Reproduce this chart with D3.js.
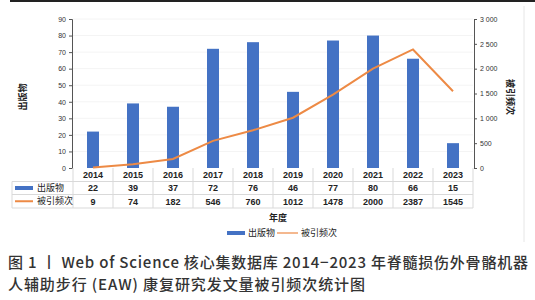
<!DOCTYPE html>
<html>
<head>
<meta charset="utf-8">
<script src="https://cdn.jsdelivr.net/npm/d3@7/dist/d3.min.js"></script>
<style>
  body { margin: 0; background: #fff; }
  svg { display: block; font-family: "Noto Sans CJK SC", "Noto Sans", sans-serif; }
</style>
</head>
<body>
<div id="chart"></div>
<script>
const years = ["2014", "2015", "2016", "2017", "2018", "2019", "2020", "2021", "2022", "2023"];
const publications = [22, 39, 37, 72, 76, 46, 77, 80, 66, 15];
const citations = [9, 74, 182, 546, 760, 1012, 1478, 2000, 2387, 1545];
const leftTicks = [0, 10, 20, 30, 40, 50, 60, 70, 80, 90];
const rightTicks = [0, 500, 1000, 1500, 2000, 2500, 3000];

const seriesNames = ["出版物", "被引频次"];
const xTitle = "年度";
const captionLines = [
    "图 1 丨 Web of Science 核心集数据库 2014−2023 年脊髓损伤外骨骼机器",
    "人辅助步行 (EAW) 康复研究发文量被引频次统计图"
];

const colors = ["#4472c4", "#ed8a45"];

const width = 535, height = 300;
const margin = {top: 19, left: 73, right: 473, bottom: 168};

const svg = d3.select("#chart").append("svg")
    .attr("width", width)
    .attr("height", height);

// top rule and right frame line
svg.append("rect").attr("x", 10).attr("y", 0).attr("width", 525).attr("height", 2).attr("fill", "#222");
svg.append("line")
    .attr("x1", 524).attr("x2", 524).attr("y1", 6).attr("y2", 242)
    .attr("stroke", "#e6e6e6").attr("stroke-width", 1);

let x = d3.scaleBand().domain(years).range([margin.left, margin.right]).paddingInner(0).paddingOuter(0);
let yL = d3.scaleLinear().domain([0, 90]).range([margin.bottom, margin.top]);
let yR = d3.scaleLinear().domain([0, 3000]).range([margin.bottom, margin.top]);

// faint gridlines
svg.append("g").selectAll("line")
    .data(leftTicks.slice(1))
    .join("line")
    .attr("x1", margin.left).attr("x2", margin.right)
    .attr("y1", d => yL(d)).attr("y2", d => yL(d))
    .attr("stroke", "#f4f4f4");

// bars
let barW = 12;
svg.append("g").selectAll("rect")
    .data(publications)
    .join("rect")
    .attr("x", (d, i) => x(years[i]) + x.bandwidth() / 2 - barW / 2)
    .attr("y", d => yL(d))
    .attr("width", barW)
    .attr("height", d => yL(0) - yL(d))
    .attr("fill", colors[0]);

// citation line
let line = d3.line()
    .x((d, i) => x(years[i]) + x.bandwidth() / 2)
    .y(d => yR(d));

svg.append("path")
    .datum(citations)
    .attr("d", line)
    .attr("fill", "none")
    .attr("stroke", colors[1])
    .attr("stroke-width", 2);

// axes
let spaceFmt = d3.formatLocale({decimal: ".", thousands: " ", grouping: [3], currency: ["", ""]}).format(",");

let leftAxis = svg.append("g")
    .attr("transform", `translate(${margin.left - 1},0)`)
    .call(d3.axisLeft(yL).tickValues(leftTicks).tickSize(3).tickSizeOuter(3));

let rightAxis = svg.append("g")
    .attr("transform", `translate(${margin.right + 1},0)`)
    .call(d3.axisRight(yR).tickValues(rightTicks).tickSize(3).tickSizeOuter(3).tickFormat(spaceFmt));

[leftAxis, rightAxis].forEach(a => {
    a.select(".domain").attr("stroke", "#555");
    a.selectAll(".tick line").attr("stroke", "#555");
    a.selectAll(".tick text")
        .attr("font-size", 7)
        .attr("fill", "#333")
        .attr("font-family", "'Liberation Sans', sans-serif");
});

// axis titles
svg.append("text")
    .attr("transform", "translate(26,97) rotate(-90)")
    .attr("text-anchor", "middle")
    .attr("font-size", 9)
    .attr("font-weight", "bold")
    .attr("fill", "#222")
    .text(seriesNames[0]);

svg.append("text")
    .attr("transform", "translate(507,97) rotate(90)")
    .attr("text-anchor", "middle")
    .attr("font-size", 9)
    .attr("font-weight", "bold")
    .attr("fill", "#222")
    .text(seriesNames[1]);

// data table
let rowY = [168, 181.5, 194.5, 208];
let tableLeft = 12;
let table = svg.append("g");

// horizontal rules
table.selectAll(".hrule")
    .data([1, 2, 3])
    .join("line")
    .attr("x1", tableLeft)
    .attr("x2", margin.right)
    .attr("y1", d => rowY[d]).attr("y2", d => rowY[d])
    .attr("stroke", "#d9d9d9");

table.append("line")
    .attr("x1", tableLeft).attr("x2", tableLeft)
    .attr("y1", rowY[1]).attr("y2", rowY[3])
    .attr("stroke", "#d9d9d9");

// vertical separators
table.selectAll(".vrule")
    .data(years.concat(["end"]))
    .join("line")
    .attr("x1", (d, i) => i < years.length ? x(d) : margin.right)
    .attr("x2", (d, i) => i < years.length ? x(d) : margin.right)
    .attr("y1", rowY[0]).attr("y2", rowY[3])
    .attr("stroke", "#d9d9d9");

let rows = [years, publications, citations];
rows.forEach((vals, r) => {
    table.append("g").selectAll("text")
        .data(vals)
        .join("text")
        .attr("x", (d, i) => x(years[i]) + x.bandwidth() / 2)
        .attr("y", (rowY[r] + rowY[r + 1]) / 2 + 3.3)
        .attr("text-anchor", "middle")
        .attr("font-size", 9)
        .attr("font-weight", "bold")
        .attr("fill", "#222")
        .attr("font-family", "'Liberation Sans', sans-serif")
        .text(d => d);
});

// table legend keys
table.append("rect")
    .attr("x", 15).attr("y", (rowY[1] + rowY[2]) / 2 - 2)
    .attr("width", 18).attr("height", 4)
    .attr("fill", colors[0]);
table.append("line")
    .attr("x1", 15).attr("x2", 33)
    .attr("y1", (rowY[2] + rowY[3]) / 2).attr("y2", (rowY[2] + rowY[3]) / 2)
    .attr("stroke", colors[1]).attr("stroke-width", 2);

seriesNames.forEach((name, i) => {
    table.append("text")
        .attr("x", 37)
        .attr("y", (rowY[i + 1] + rowY[i + 2]) / 2 + 3.2)
        .attr("font-size", 9)
        .attr("fill", "#222")
        .text(name);
});

// x title
svg.append("text")
    .attr("x", 278).attr("y", 221)
    .attr("text-anchor", "middle")
    .attr("font-size", 9)
    .attr("font-weight", "bold")
    .attr("fill", "#222")
    .text(xTitle);

// bottom legend
let legend = svg.append("g").attr("transform", "translate(227,233)");
legend.append("rect").attr("x", 0).attr("y", -2).attr("width", 18).attr("height", 4).attr("fill", colors[0]);
legend.append("text").attr("x", 21).attr("y", 3.2).attr("font-size", 9).attr("fill", "#222").text(seriesNames[0]);
legend.append("line").attr("x1", 50).attr("x2", 71).attr("y1", 0).attr("y2", 0)
    .attr("stroke", colors[1]).attr("stroke-width", 2).attr("opacity", 0.6);
legend.append("text").attr("x", 74).attr("y", 3.2).attr("font-size", 9).attr("fill", "#222").text(seriesNames[1]);

// caption
svg.append("text")
    .attr("x", 8).attr("y", 268)
    .attr("font-size", 15)
    .attr("font-weight", 500)
    .attr("fill", "#333")
    .attr("textLength", 520)
    .attr("lengthAdjust", "spacing")
    .text(captionLines[0]);

svg.append("text")
    .attr("x", 8).attr("y", 290)
    .attr("font-size", 15)
    .attr("font-weight", 500)
    .attr("fill", "#333")
    .attr("textLength", 357)
    .attr("lengthAdjust", "spacing")
    .text(captionLines[1]);
</script>
</body>
</html>
